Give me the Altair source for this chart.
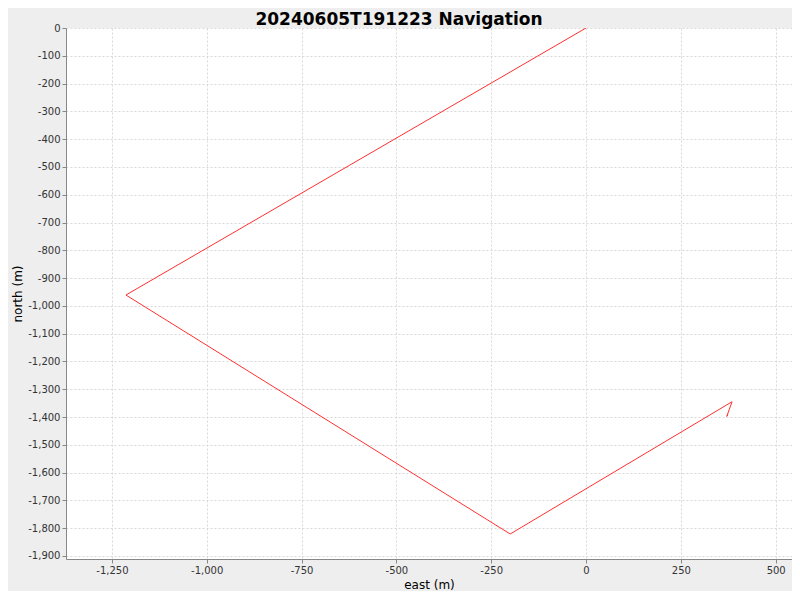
import altair as alt
import pandas as pd

title_text = ["20240605T191223 Navigation"]
east = [0, -1213, -200, 385, 371, 374]
north = [0, -961, -1821, -1345, -1398, -1391]
x_ticks = [-1250, -1000, -750, -500, -250, 0, 250, 500]
y_ticks = list(range(-1900, 1, 100))

df = pd.DataFrame({"east": east, "north": north, "i": list(range(len(east)))})
tdf = pd.DataFrame({"t": title_text})

lab = "replace(format(datum.value, ','), '\u2212', '-')"

line = alt.Chart(df).mark_line(color="#FF3030", strokeWidth=1, clip=True).encode(
    x=alt.X("east:Q", title="east (m)",
            scale=alt.Scale(domain=[-1371, 543], nice=False, zero=False),
            axis=alt.Axis(values=x_ticks, labelExpr=lab)),
    y=alt.Y("north:Q", title="north (m)",
            scale=alt.Scale(domain=[-1911, 0], nice=False, zero=False),
            axis=alt.Axis(values=y_ticks, labelExpr=lab)),
    order="i:Q",
)

title = alt.Chart(tdf).mark_text(
    font="DejaVu Sans", fontSize=17, fontWeight="bold", color="#000000",
    align="center", baseline="middle", clip=False,
).encode(text="t:N", x=alt.value(333), y=alt.value(-8))

chart = alt.layer(line, title).properties(
    width=726, height=531,
    autosize=alt.AutoSizeParams(type="none"),
    padding={"left": 58, "top": 20, "right": 0, "bottom": 32},
    background="#EEEEEE",
).configure_view(
    fill="white", stroke=None
).configure_axis(
    gridDash=[2, 2], gridColor="#D8D8D8", gridWidth=1,
    domainColor="#888888", tickColor="#888888", tickSize=4,
    labelFont="DejaVu Sans", labelFontSize=10, labelColor="#333333",
    titleFont="DejaVu Sans", titleFontSize=12, titleFontWeight="normal", titleColor="#000000",
    labelPadding=2,
).configure_axisY(titlePadding=3)

chart.save("out.html", embed_options={"renderer": "svg", "actions": False})
